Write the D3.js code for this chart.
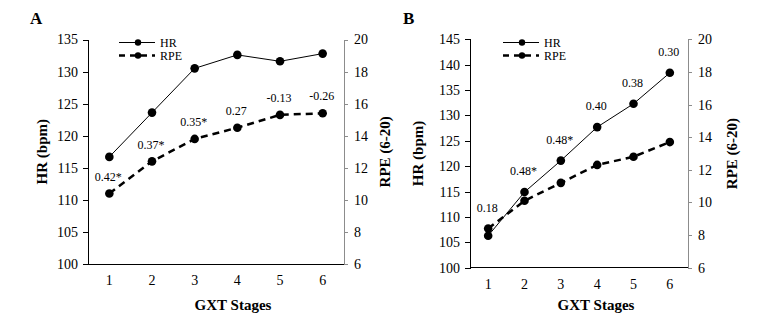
<!DOCTYPE html>
<html>
<head>
<meta charset="utf-8">
<script src="https://cdn.jsdelivr.net/npm/d3@7"></script>
<style>
  body { margin: 0; background: #fff; }
  .axis path, .axis line { shape-rendering: crispEdges; }
</style>
</head>
<body>
<div id="chart"></div>
<script>
// data
var stages = [1, 2, 3, 4, 5, 6];

var hrA = [116.7, 123.6, 130.5, 132.6, 131.6, 132.8];
var rpeA = [10.4, 12.4, 13.8, 14.5, 15.3, 15.4];
var labelsA = ["0.42*", "0.37*", "0.35*", "0.27", "-0.13", "-0.26"];

var hrB = [106.3, 114.9, 121.1, 127.7, 132.3, 138.4];
var rpeB = [8.4, 10.1, 11.2, 12.3, 12.8, 13.7];
var labelsB = ["0.18", "0.48*", "0.48*", "0.40", "0.38", "0.30"];

var hrTicksA = [100, 105, 110, 115, 120, 125, 130, 135];
var hrTicksB = [100, 105, 110, 115, 120, 125, 130, 135, 140, 145];
var rpeTicks = [6, 8, 10, 12, 14, 16, 18, 20];

var serif = "Liberation Serif";

var svg = d3.select("#chart").append("svg")
    .attr("width", 778)
    .attr("height", 314);

// one panel
function drawPanel(opt) {
  var g = svg.append("g");

  var x = d3.scaleBand().domain(stages).range([opt.left, opt.right]).padding(0);
  var yL = d3.scaleLinear().domain([100, opt.hrMax]).range([opt.bottom, opt.top]);
  var yR = d3.scaleLinear().domain([6, 20]).range([opt.bottom, opt.top]);
  var cx = function(d) { return x(d) + x.bandwidth() / 2; };

  // axes
  g.append("g")
    .attr("class", "axis")
    .attr("transform", "translate(" + opt.left + ",0)")
    .call(d3.axisLeft(yL).tickValues(opt.hrTicks).tickSizeOuter(0).tickSize(5).tickPadding(5));

  var right = g.append("g")
    .attr("class", "axis")
    .attr("transform", "translate(" + opt.right + ",0)")
    .call(d3.axisRight(yR).tickValues(rpeTicks).tickSizeOuter(0).tickSize(4).tickPadding(6));
  right.selectAll("path, line").attr("stroke", "#8c8c8c");

  var bottom = g.append("g")
    .attr("class", "axis")
    .attr("transform", "translate(0," + opt.bottom + ")")
    .call(d3.axisBottom(x).tickSize(0).tickPadding(opt.xPad));
  bottom.select("path").attr("d", "M" + opt.left + ",0H" + opt.right);

  g.selectAll(".axis").attr("font-family", serif).attr("font-size", 14);

  // titles
  g.append("text").attr("class", "title")
    .attr("text-anchor", "middle")
    .attr("transform", "translate(" + opt.hrTitleX + "," + ((opt.top + opt.bottom) / 2) + ")rotate(-90)")
    .attr("dy", "0.35em")
    .text("HR (bpm)");

  g.append("text").attr("class", "title")
    .attr("text-anchor", "middle")
    .attr("transform", "translate(" + opt.rpeTitleX + "," + ((opt.top + opt.bottom) / 2) + ")rotate(-90)")
    .attr("dy", "0.35em")
    .text("RPE (6-20)");

  g.append("text").attr("class", "title")
    .attr("text-anchor", "middle")
    .attr("x", (opt.left + opt.right) / 2 + 17)
    .attr("y", 310)
    .text("GXT  Stages");

  g.selectAll(".title")
    .style("font-weight", "bold")
    .style("font-size", "15px");

  g.append("text")
    .attr("x", opt.letterX)
    .attr("y", 24)
    .style("font-weight", "bold")
    .style("font-size", "17px")
    .text(opt.letter);

  // lines
  var hrLine = d3.line().x(function(d, i) { return cx(stages[i]); }).y(function(d) { return yL(d); });
  var rpeLine = d3.line().x(function(d, i) { return cx(stages[i]); }).y(function(d) { return yR(d); });

  g.append("path")
    .attr("d", hrLine(opt.hr))
    .attr("fill", "none")
    .attr("stroke", "#000")
    .attr("stroke-width", 1);

  g.append("path")
    .attr("d", rpeLine(opt.rpe))
    .attr("fill", "none")
    .attr("stroke", "#000")
    .attr("stroke-width", 2.5)
    .attr("stroke-dasharray", "7,5");

  g.selectAll(".hr-dot").data(opt.hr).enter().append("circle")
    .attr("cx", function(d, i) { return cx(stages[i]); })
    .attr("cy", function(d) { return yL(d); })
    .attr("r", 4.3);

  g.selectAll(".rpe-dot").data(opt.rpe).enter().append("circle")
    .attr("cx", function(d, i) { return cx(stages[i]); })
    .attr("cy", function(d) { return yR(d); })
    .attr("r", 4.3);

  // correlation labels above the upper point of each stage
  g.selectAll(".lbl").data(opt.labels).enter().append("text")
    .attr("text-anchor", "middle")
    .attr("x", function(d, i) { return cx(stages[i]) - 1; })
    .attr("y", function(d, i) {
      var top = opt.labelOn == "rpe" ? yR(opt.rpe[i]) : Math.min(yL(opt.hr[i]), yR(opt.rpe[i]));
      return top - opt.labelGap;
    })
    .attr("dy", "0.35em")
    .style("font-size", "12px")
    .text(function(d) { return d; });

  // legend
  var lg = g.append("g");
  [["HR", 0, null, 1], ["RPE", 13, "7,5", 2.5]].forEach(function(s) {
    var ly = opt.legendY + s[1];
    lg.append("line")
      .attr("x1", opt.legendX).attr("x2", opt.legendX + 36)
      .attr("y1", ly).attr("y2", ly)
      .attr("stroke", "#000")
      .attr("stroke-width", s[3])
      .attr("stroke-dasharray", s[2] ? "6,5" : null);
    lg.append("circle").attr("cx", opt.legendX + 19).attr("cy", ly).attr("r", 3.2);
    lg.append("text")
      .attr("x", opt.legendX + 41).attr("y", ly).attr("dy", "0.35em")
      .style("font-size", "12px")
      .text(s[0]);
  });
}

drawPanel({
  letter: "A", letterX: 30,
  left: 88, right: 344, top: 39.5, bottom: 264,
  hrMax: 135, hrTicks: hrTicksA,
  hr: hrA, rpe: rpeA, labels: labelsA, labelOn: "rpe", labelGap: 17,
  hrTitleX: 42, rpeTitleX: 385, xPad: 11,
  legendX: 119, legendY: 42.5
});

drawPanel({
  letter: "B", letterX: 403,
  left: 470, right: 688, top: 39.3, bottom: 267.7,
  hrMax: 145, hrTicks: hrTicksB,
  hr: hrB, rpe: rpeB, labels: labelsB, labelOn: "max", labelGap: 21,
  hrTitleX: 418, rpeTitleX: 732, xPad: 11,
  legendX: 503, legendY: 42.5
});

// every text in Times-like serif, black
svg.selectAll("text").style("font-family", serif).style("fill", "#000");
</script>
</body>
</html>
